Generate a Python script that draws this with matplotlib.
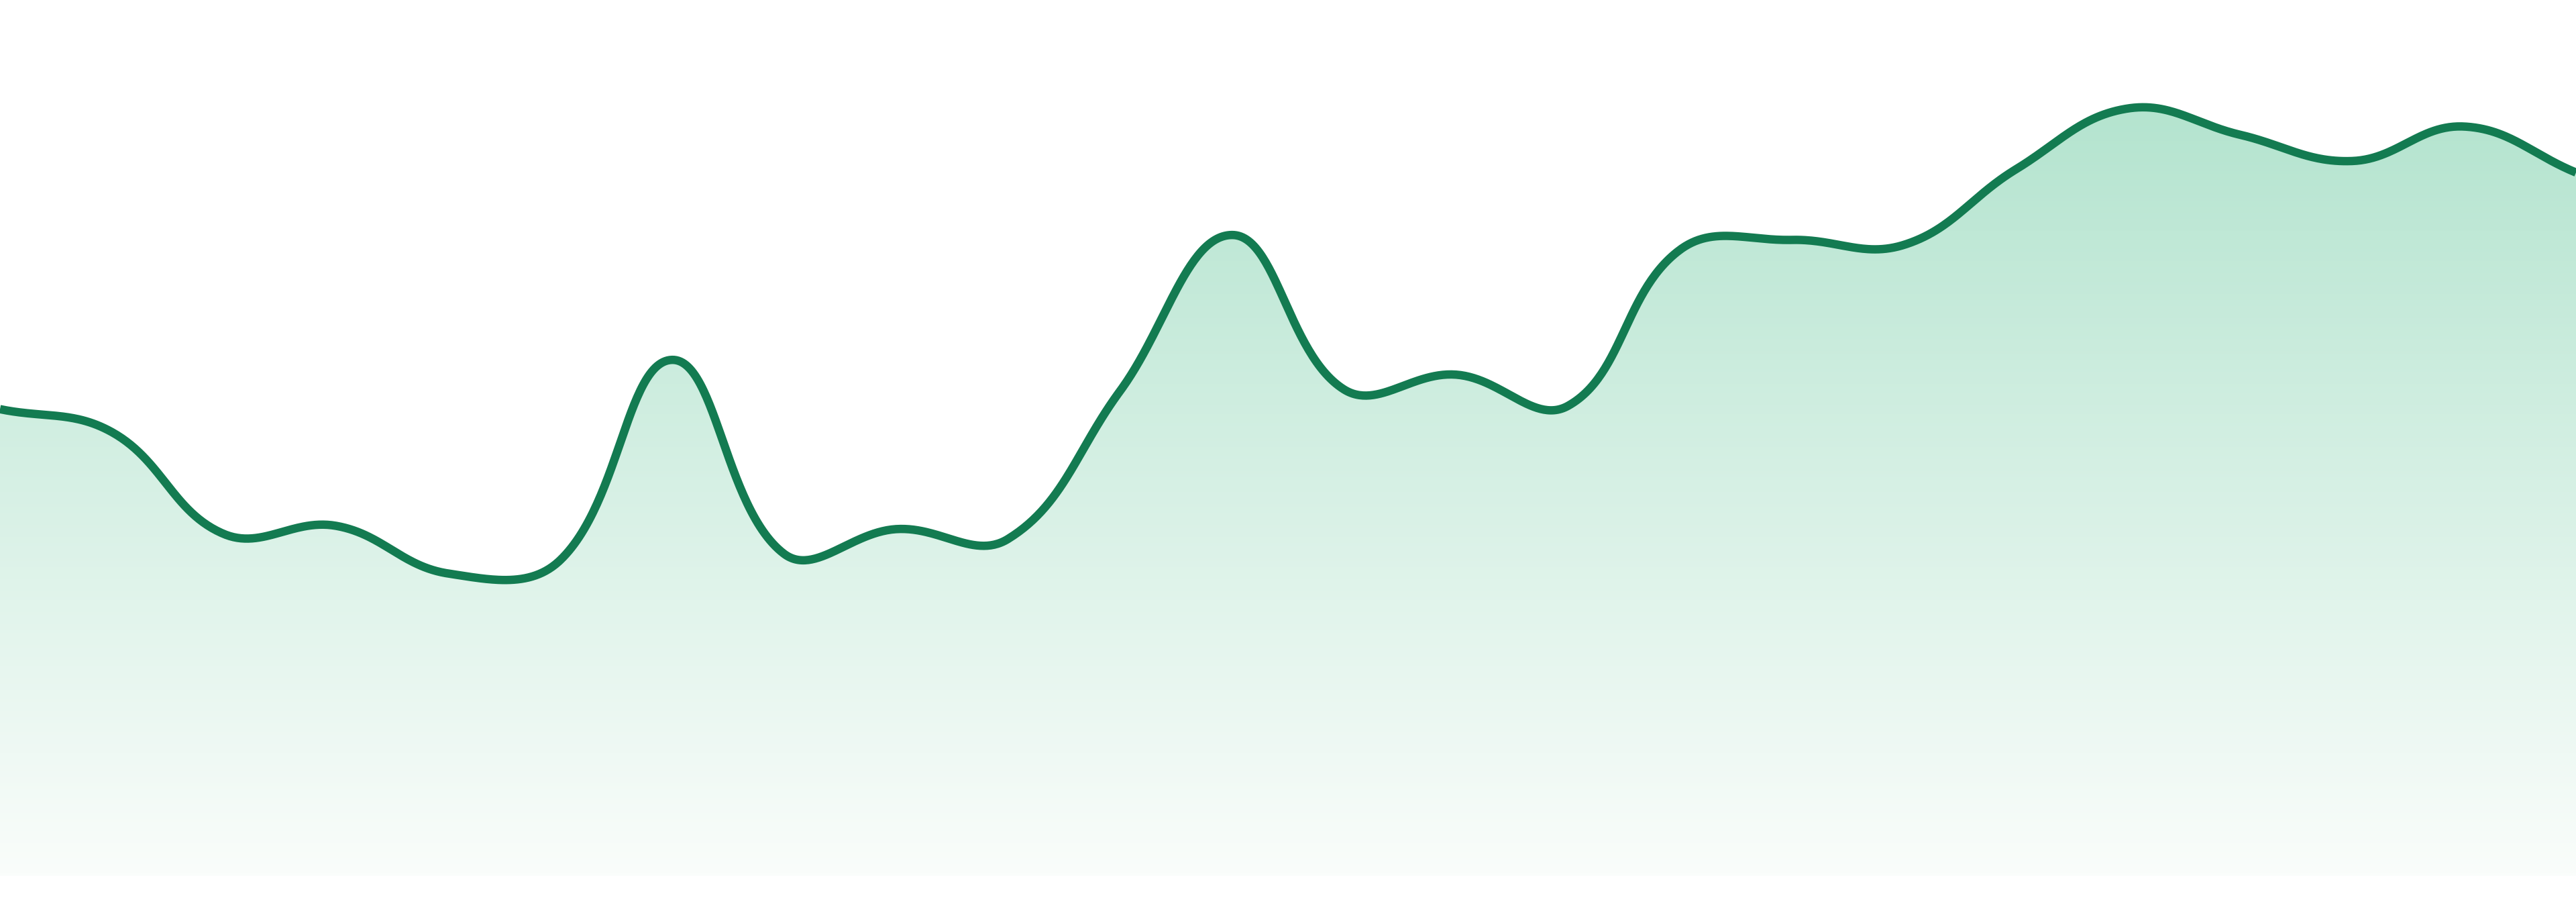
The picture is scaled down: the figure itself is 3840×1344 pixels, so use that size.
import numpy as np
import matplotlib
matplotlib.use('Agg')
from matplotlib import pyplot as plt
from matplotlib.path import Path
from matplotlib.patches import PathPatch

# Veri: 24 nokta, eksen yok
x_vals = list(range(24))
y_vals = [284, 270, 208, 213, 184, 192, 314, 196, 211, 205, 295, 390,
          296, 305, 286, 381, 387, 384, 430, 467, 451, 435, 456, 428]

line_color = '#137b51'
top_rgb = np.array([180, 228, 207]) / 255.0
bot_rgb = np.array([250, 253, 251]) / 255.0
tension = 0.4

fig = plt.figure(figsize=(38.4, 13.44), dpi=100)
ax = fig.add_axes([0, 39 / 1344, 1, 1305 / 1344])
ax.set_xlim(0, 23)
ax.set_ylim(0, 533)
ax.axis('off')

# Chart.js benzeri spline: kontrol noktalari piksel uzayinda hesaplanir
pts = ax.transData.transform(np.column_stack([x_vals, y_vals]))
n = len(pts)
cp_prev = np.zeros_like(pts)
cp_next = np.zeros_like(pts)
for i in range(n):
    p0 = pts[i - 1] if i > 0 else pts[i]
    p1 = pts[i]
    p2 = pts[i + 1] if i < n - 1 else pts[i]
    d01 = np.hypot(*(p1 - p0))
    d12 = np.hypot(*(p2 - p1))
    tot = d01 + d12
    s01 = d01 / tot if tot else 0
    s12 = d12 / tot if tot else 0
    cp_prev[i] = p1 - tension * s01 * (p2 - p0)
    cp_next[i] = p1 + tension * s12 * (p2 - p0)

t = np.linspace(0, 1, 60)[:, None]
curve = []
for i in range(n - 1):
    a, b, c, d = pts[i], cp_next[i], cp_prev[i + 1], pts[i + 1]
    seg = ((1 - t) ** 3) * a + 3 * ((1 - t) ** 2) * t * b + 3 * (1 - t) * t ** 2 * c + t ** 3 * d
    curve.append(seg if i == 0 else seg[1:])
curve = np.vstack(curve)
curve = ax.transData.inverted().transform(curve)

# Gradyan dolgu
ymax = max(y_vals)
grad = np.linspace(0, 1, 256)[:, None, None]
img = top_rgb * (1 - grad) + bot_rgb * grad
img = np.repeat(img, 2, axis=1)
tail = np.array([[curve[-1, 0], 0], [curve[0, 0], 0], curve[0]])
poly = np.vstack([curve, tail])
patch = PathPatch(Path(poly, closed=True), facecolor='none', edgecolor='none')
ax.add_patch(patch)
im = ax.imshow(img, extent=[0, 23, 0, ymax], aspect='auto', origin='upper', zorder=1)
im.set_clip_path(patch)

ax.plot(curve[:, 0], curve[:, 1], color=line_color, lw=9, zorder=3,
        solid_capstyle='butt', solid_joinstyle='round')

fig.savefig('out.png', dpi=100, facecolor='white')
